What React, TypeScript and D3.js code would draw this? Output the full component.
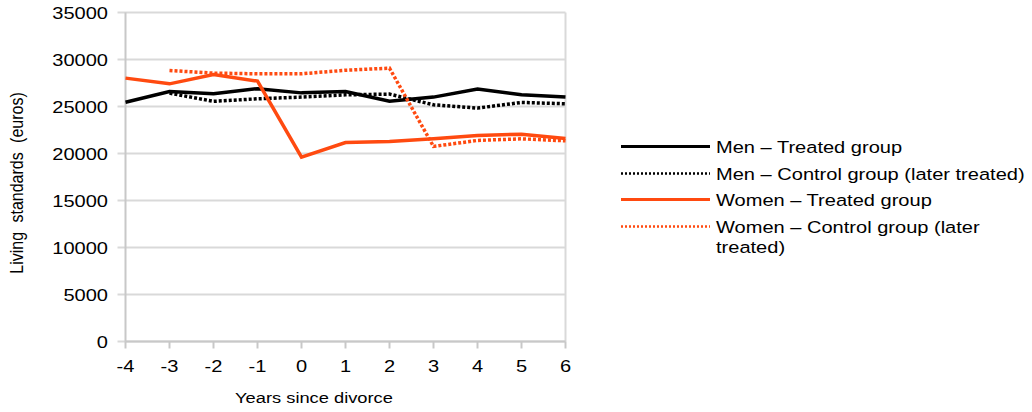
import React from "react";
import * as d3 from "d3";

const years = [-4, -3, -2, -1, 0, 1, 2, 3, 4, 5, 6];
const menTreated = [25450, 26600, 26350, 26900, 26450, 26600, 25550, 26000, 26850, 26250, 26000];
const menControl = [null, 26420, 25550, 25820, 26000, 26240, 26320, 25180, 24830, 25430, 25290];
const womenTreated = [28020, 27410, 28400, 27700, 19620, 21170, 21280, 21560, 21920, 22060, 21600];
const womenControl = [null, 28830, 28550, 28480, 28480, 28860, 29080, 20750, 21390, 21560, 21350];
const yTicks = [0, 5000, 10000, 15000, 20000, 25000, 30000, 35000];

const BLACK = "#000000";
const ORANGE = "#ff4a10";

const series = [
  { name: "Men \u2013 Treated group", values: menTreated, color: BLACK, dotted: false, lines: ["Men \u2013 Treated group"] },
  { name: "Men \u2013 Control group (later treated)", values: menControl, color: BLACK, dotted: true, lines: ["Men \u2013 Control group (later treated)"] },
  { name: "Women \u2013 Treated group", values: womenTreated, color: ORANGE, dotted: false, lines: ["Women \u2013 Treated group"] },
  { name: "Women \u2013 Control group (later treated)", values: womenControl, color: ORANGE, dotted: true, lines: ["Women \u2013 Control group (later", "treated)"] },
];

const SX = 1.18;

function T(props: { x: number; y: number; size: number; anchor?: string; children: React.ReactNode }) {
  return (
    <g transform={`translate(${props.x},${props.y}) scale(${SX},1)`}>
      <text x={0} y={0} textAnchor={props.anchor || "start"} fontSize={props.size} fill="#000">
        {props.children}
      </text>
    </g>
  );
}

export default function App() {
  const W = 1032, H = 412;
  const left = 125.5, right = 565.5, top = 12.5, bottom = 341.5;
  const x = d3.scaleLinear().domain([-4, 6]).range([left, right]);
  const y = d3.scaleLinear().domain([0, 35000]).range([bottom, top]);
  const font = "'Liberation Sans', Arial, Helvetica, sans-serif";
  const line = d3
    .line<number | null>()
    .defined((d) => d !== null)
    .x((_, i) => x(years[i]))
    .y((d) => y(d as number));

  const legendY = [146.5, 173.5, 199.5, 226.5];

  return (
    <svg width={W} height={H} style={{ position: "absolute", left: 0, top: 0 }} fontFamily={font}>
      <rect width={W} height={H} fill="#fff" />
      {yTicks.map((t) => (
        <g key={t}>
          <line x1={left - 8} x2={right} y1={y(t)} y2={y(t)} stroke="#d9d9d9" strokeWidth={2} />
          <T x={108} y={y(t) + 6} size={17} anchor="end">
            {t}
          </T>
        </g>
      ))}
      <line x1={left} x2={left} y1={top} y2={bottom} stroke="#c8c8c8" strokeWidth={2} />
      <line x1={right} x2={right} y1={top} y2={bottom} stroke="#d9d9d9" strokeWidth={2} />
      <line x1={left} x2={right} y1={bottom} y2={bottom} stroke="#c8c8c8" strokeWidth={2} />
      {years.map((yr) => (
        <g key={yr}>
          <line x1={x(yr)} x2={x(yr)} y1={bottom} y2={bottom + 7} stroke="#c8c8c8" strokeWidth={2} />
          <T x={x(yr)} y={371.5} size={17} anchor="middle">
            {yr}
          </T>
        </g>
      ))}
      {series.map((s) => (
        <path
          key={s.name}
          d={line(s.values) || ""}
          fill="none"
          stroke={s.color}
          strokeWidth={3.5}
          strokeDasharray={s.dotted ? "3 2" : undefined}
          strokeLinejoin="miter"
        />
      ))}
      <T x={314} y={403} size={15.5} anchor="middle">
        Years since divorce
      </T>
      <g transform={`translate(23, 183) rotate(-90) scale(1, ${SX})`}>
        <text x={0} y={0} textAnchor="middle" fontSize={16} fill="#000" wordSpacing={5}>
          Living standards (euros)
        </text>
      </g>
      {series.map((s, i) => (
        <g key={s.name}>
          <line
            x1={621}
            x2={710}
            y1={legendY[i]}
            y2={legendY[i]}
            stroke={s.color}
            strokeWidth={s.dotted ? 2.5 : 3}
            strokeDasharray={s.dotted ? "2 2" : undefined}
          />
          {s.lines.map((l, j) => (
            <T key={j} x={716} y={legendY[i] + 6.5 + j * 20} size={17}>
              {l}
            </T>
          ))}
        </g>
      ))}
    </svg>
  );
}
